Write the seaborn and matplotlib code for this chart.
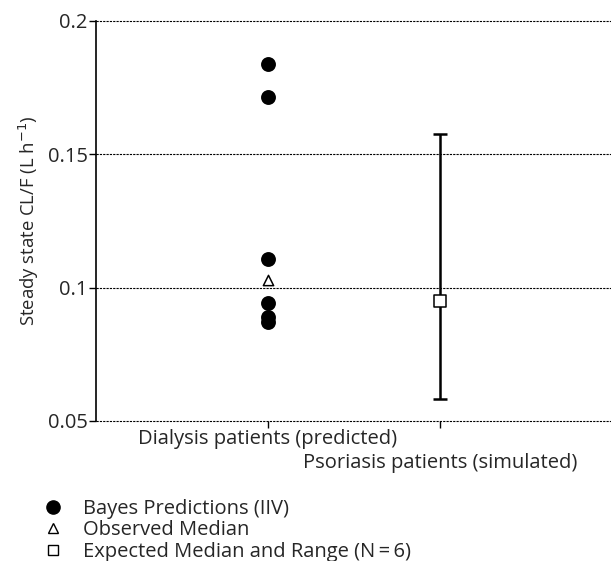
import matplotlib
matplotlib.use('Agg')
import matplotlib.pyplot as plt
from matplotlib.lines import Line2D
import pandas as pd
import seaborn as sns

# grupos no eixo x
grupos = ['Dialysis patients (predicted)', 'Psoriasis patients (simulated)']

# predicoes Bayes (IIV) para pacientes em dialise
bayes = [0.1840, 0.1715, 0.1108, 0.0943, 0.0889, 0.0870]
# mediana observada
mediana_obs = [0.1029]
# mediana esperada e faixa (N = 6), psoriase
mediana_esp = [0.0950]
faixa_min = [0.0583]
faixa_max = [0.1576]

sns.set_style('white')
plt.rcParams['font.family'] = ['Open Sans', 'DejaVu Sans']

fig = plt.figure(figsize=(6.11, 5.61), dpi=100)
ax = fig.add_axes([96 / 611, 140 / 561, 516 / 611, 400 / 561])

pos = {g: i for i, g in enumerate(grupos)}

df_bayes = pd.DataFrame({'grupo': grupos[0], 'cl': bayes})
df_bayes['x'] = df_bayes['grupo'].map(pos)
df_obs = pd.DataFrame({'grupo': grupos[0], 'cl': mediana_obs})
df_obs['x'] = df_obs['grupo'].map(pos)
df_esp = pd.DataFrame({'grupo': grupos[1], 'cl': mediana_esp,
                       'lo': faixa_min, 'hi': faixa_max})
df_esp['x'] = df_esp['grupo'].map(pos)

# faixa esperada
ax.errorbar(df_esp['x'], df_esp['cl'],
            yerr=[df_esp['cl'] - df_esp['lo'], df_esp['hi'] - df_esp['cl']],
            fmt='none', ecolor='black', elinewidth=1.8, capsize=5, capthick=1.8, zorder=3)

sns.scatterplot(data=df_bayes, x='x', y='cl', ax=ax, color='black', marker='o',
                s=115, edgecolor='black', linewidth=0, zorder=4, legend=False)
sns.scatterplot(data=df_obs, x='x', y='cl', ax=ax, color='white', marker='^',
                s=55, edgecolor='black', linewidth=1.1, zorder=4, legend=False)
sns.scatterplot(data=df_esp, x='x', y='cl', ax=ax, color='white', marker='s',
                s=70, edgecolor='black', linewidth=1.1, zorder=5, legend=False)

ax.set_xlim(-1, 2)
ax.set_ylim(0.05, 0.2)
ax.set_yticks([0.05, 0.1, 0.15, 0.2])
ax.set_yticklabels(['0.05', '0.1', '0.15', '0.2'], fontsize=14.5)
ax.set_xticks(range(len(grupos)))
ax.set_xticklabels(grupos, fontsize=14.5)
ax.set_xlabel('')
ax.set_ylabel('Steady state CL/F (L h$^{-1}$)', fontsize=13.3, labelpad=5)

ax.grid(False)
for y in [0.05, 0.1, 0.15, 0.2]:
    ax.axhline(y, color='black', linestyle=(0, (2, 1)), linewidth=0.8, zorder=1,
               clip_on=False)

for s in ['top', 'right', 'bottom']:
    ax.spines[s].set_visible(False)
ax.spines['left'].set_color('black')
ax.spines['left'].set_linewidth(1.2)
ax.tick_params(axis='both', direction='out', length=5, width=1, color='black',
               bottom=True, left=True, pad=1)
# rotulos escalonados
ax.xaxis.get_major_ticks()[1].set_pad(18)

handles = [
    Line2D([], [], linestyle='none', marker='o', markersize=9.5, color='black'),
    Line2D([], [], linestyle='none', marker='^', markersize=7, markerfacecolor='white',
           markeredgecolor='black'),
    Line2D([], [], linestyle='none', marker='s', markersize=7.5, markerfacecolor='white',
           markeredgecolor='black'),
]
labels = ['Bayes Predictions (IIV)', 'Observed Median', 'Expected Median and Range (N\u2009=\u20096)']
fig.legend(handles, labels, loc='lower left', bbox_to_anchor=(20 / 611, -19 / 561),
           frameon=False, fontsize=14.5, handletextpad=0.75, labelspacing=0.08,
           handlelength=1.5)

fig.savefig('out.png', dpi=100)
